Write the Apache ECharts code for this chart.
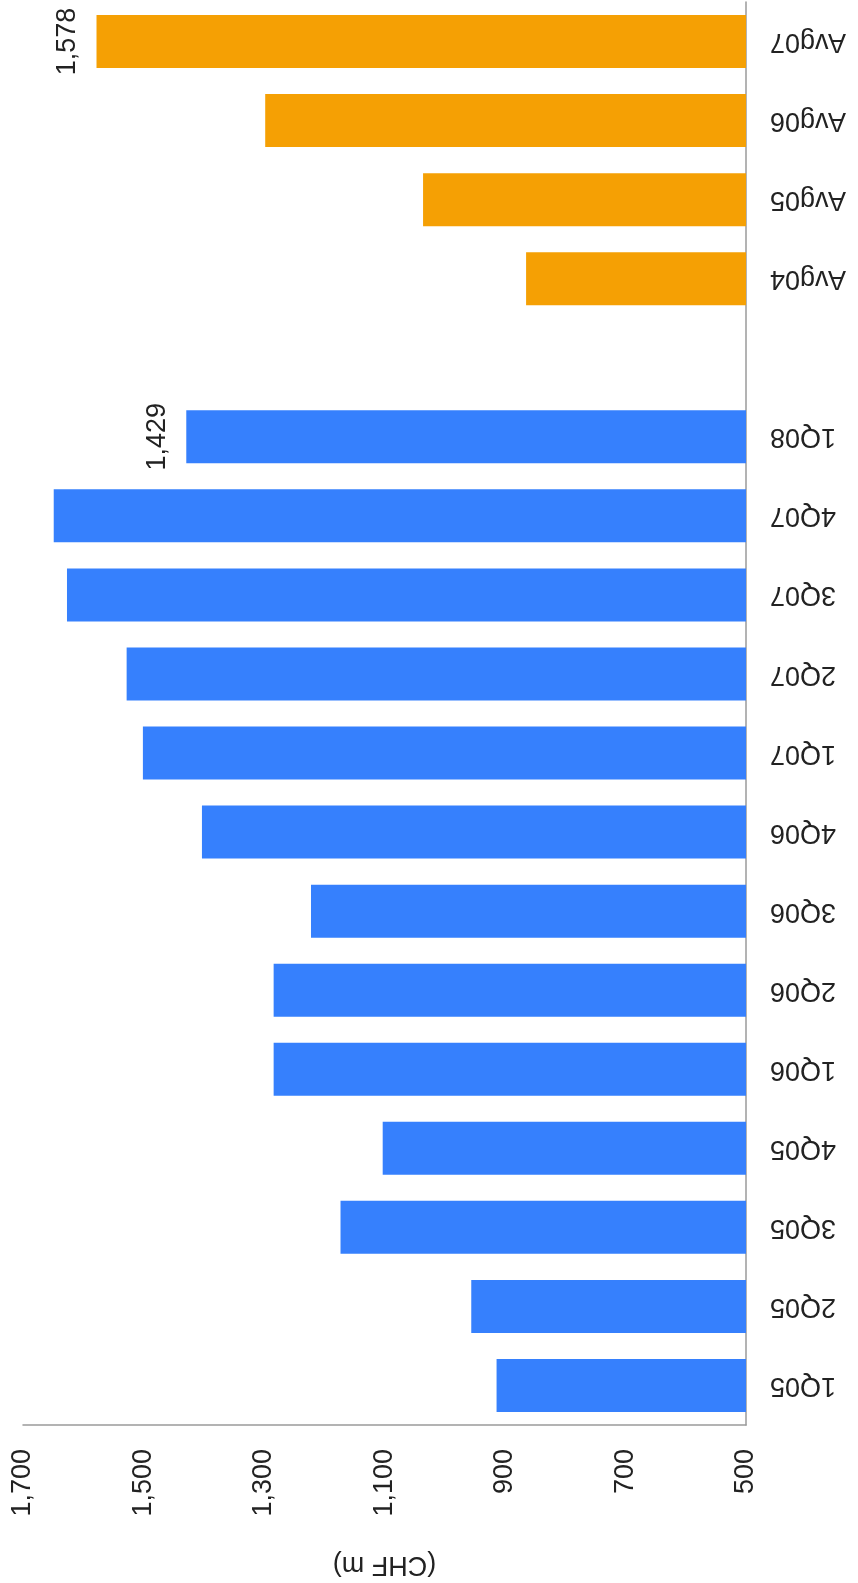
<!DOCTYPE html>
<html>
<head>
<meta charset="utf-8">
<script src="https://cdn.jsdelivr.net/npm/echarts@6/dist/echarts.min.js"></script>
<style>
  html, body { margin: 0; padding: 0; background: #fff; }
  #chart { width: 858px; height: 1583px; }
</style>
</head>
<body>
<div id="chart"></div>
<script>
// categories run bottom -> top (first one sits at the bottom)
const categories = ["1Q05", "2Q05", "3Q05", "4Q05", "1Q06", "2Q06", "3Q06", "4Q06",
  "1Q07", "2Q07", "3Q07", "4Q07", "1Q08", "", "Avg04", "Avg05", "Avg06", "Avg07"];
const quarterValues = [914, 956, 1173, 1103, 1284, 1284, 1222, 1403,
  1501, 1528, 1627, 1649, 1429];
const averageValues = [865, 1036, 1298, 1578];
const labelled = ["1Q08", "Avg07"];

const blue = "#3680fd";
const orange = "#f5a004";
const font = "Liberation Sans, Arial, sans-serif";

const fmt = v => Number(v).toLocaleString("en-US");

// one series, colour per bar, labels only on the last quarter / last average
const barData = categories.map((c, i) => {
  let v = null, color = blue;
  if (i < quarterValues.length) v = quarterValues[i];
  else if (i > quarterValues.length) { v = averageValues[i - quarterValues.length - 1]; color = orange; }
  if (v === null) return null;
  const item = { value: v, itemStyle: { color: color } };
  if (labelled.indexOf(c) >= 0) item.label = { show: true };
  return item;
});

let myChart = echarts.init(document.getElementById("chart"));
myChart.setOption({
  animation: false,
  textStyle: { fontFamily: font },
  grid: { left: 23, right: 112, top: 2, bottom: 146 },
  xAxis: {
    type: "value",
    inverse: true,
    min: 500,
    max: 1700,
    interval: 200,
    position: "bottom",
    name: "(CHF m)",
    nameLocation: "middle",
    nameGap: 126,
    nameRotate: 180,
    nameTextStyle: { fontSize: 27, color: "#222", fontFamily: font },
    axisLine: { show: true, lineStyle: { color: "#9a9a9a", width: 1.5 } },
    axisTick: { show: false },
    splitLine: { show: false },
    axisLabel: {
      rotate: 90,
      margin: 24,
      fontSize: 27,
      color: "#222",
      fontFamily: font,
      formatter: fmt
    }
  },
  yAxis: {
    type: "category",
    position: "right",
    data: categories,
    axisLine: { show: true, lineStyle: { color: "#9a9a9a", width: 1.5 } },
    axisTick: { show: false },
    axisLabel: {
      rotate: 180,
      margin: 24,
      fontSize: 27,
      color: "#222",
      fontFamily: font
    }
  },
  series: [{
    type: "bar",
    data: barData,
    barWidth: 53,
    label: {
      show: false,
      position: "left",
      distance: 15,
      rotate: 90,
      align: "center",
      verticalAlign: "bottom",
      fontSize: 27,
      color: "#222",
      fontFamily: font,
      formatter: p => fmt(p.value)
    }
  }]
});
</script>
</body>
</html>
